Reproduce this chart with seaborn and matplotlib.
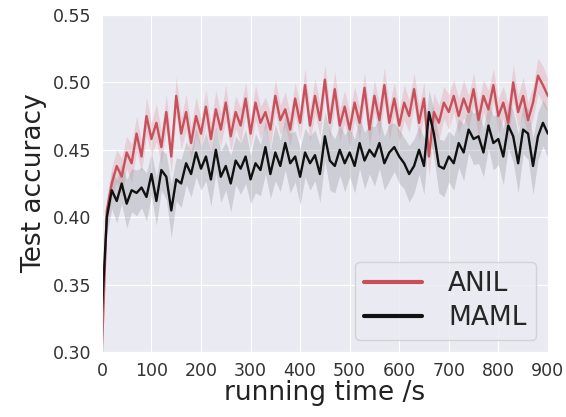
import seaborn as sns
import matplotlib.pyplot as plt
import numpy as np
import pandas as pd

# 数据（从图中读取，步长 10 s）
time_s = list(range(0, 901, 10))

anil_acc = [
    0.300, 0.405, 0.425, 0.438, 0.430, 0.448, 0.440, 0.462, 0.445, 0.475,
    0.458, 0.470, 0.452, 0.478, 0.445, 0.490, 0.462, 0.478, 0.455, 0.475,
    0.462, 0.482, 0.458, 0.480, 0.465, 0.485, 0.460, 0.478, 0.468, 0.488,
    0.462, 0.485, 0.470, 0.478, 0.465, 0.490, 0.472, 0.480, 0.465, 0.488,
    0.470, 0.498, 0.468, 0.490, 0.472, 0.502, 0.470, 0.495, 0.468, 0.482,
    0.465, 0.485, 0.470, 0.496, 0.465, 0.490, 0.472, 0.498, 0.470, 0.488,
    0.468, 0.485, 0.475, 0.495, 0.470, 0.488, 0.445, 0.478, 0.470, 0.485,
    0.478, 0.490, 0.475, 0.488, 0.478, 0.495, 0.472, 0.490, 0.480, 0.498,
    0.475, 0.485, 0.470, 0.500, 0.478, 0.490, 0.472, 0.485, 0.505, 0.498,
    0.490,
]
anil_sd = [
    0.004, 0.010, 0.012, 0.012, 0.014, 0.012, 0.014, 0.013, 0.012, 0.014,
    0.012, 0.014, 0.012, 0.013, 0.012, 0.014, 0.012, 0.013, 0.012, 0.014,
    0.011, 0.013, 0.012, 0.014, 0.012, 0.013, 0.011, 0.012, 0.013, 0.012,
    0.012, 0.013, 0.012, 0.011, 0.013, 0.012, 0.011, 0.013, 0.012, 0.012,
    0.013, 0.012, 0.012, 0.013, 0.012, 0.011, 0.012, 0.013, 0.012, 0.012,
    0.013, 0.012, 0.012, 0.011, 0.013, 0.012, 0.012, 0.013, 0.012, 0.012,
    0.012, 0.013, 0.012, 0.012, 0.013, 0.012, 0.015, 0.014, 0.013, 0.012,
    0.013, 0.012, 0.013, 0.014, 0.012, 0.012, 0.013, 0.012, 0.014, 0.012,
    0.013, 0.012, 0.014, 0.013, 0.012, 0.014, 0.013, 0.012, 0.013, 0.014,
    0.012,
]

maml_acc = [
    0.330, 0.400, 0.420, 0.412, 0.425, 0.410, 0.420, 0.418, 0.422, 0.415,
    0.432, 0.412, 0.435, 0.430, 0.405, 0.428, 0.425, 0.440, 0.432, 0.448,
    0.436, 0.445, 0.428, 0.450, 0.430, 0.438, 0.425, 0.442, 0.436, 0.445,
    0.428, 0.440, 0.435, 0.452, 0.432, 0.448, 0.438, 0.455, 0.440, 0.445,
    0.430, 0.448, 0.440, 0.446, 0.432, 0.460, 0.442, 0.438, 0.450, 0.440,
    0.448, 0.438, 0.455, 0.442, 0.450, 0.445, 0.455, 0.440, 0.448, 0.452,
    0.445, 0.440, 0.432, 0.438, 0.450, 0.438, 0.478, 0.462, 0.438, 0.436,
    0.445, 0.440, 0.455, 0.448, 0.465, 0.458, 0.460, 0.448, 0.468, 0.455,
    0.458, 0.445, 0.468, 0.460, 0.440, 0.465, 0.462, 0.438, 0.460, 0.470,
    0.462,
]
maml_sd = [
    0.004, 0.012, 0.014, 0.016, 0.015, 0.018, 0.016, 0.017, 0.015, 0.018,
    0.016, 0.018, 0.015, 0.017, 0.020, 0.016, 0.018, 0.016, 0.017, 0.018,
    0.016, 0.018, 0.020, 0.017, 0.019, 0.018, 0.021, 0.018, 0.019, 0.020,
    0.018, 0.022, 0.019, 0.020, 0.018, 0.021, 0.019, 0.020, 0.022, 0.019,
    0.021, 0.018, 0.020, 0.019, 0.021, 0.018, 0.022, 0.020, 0.019, 0.021,
    0.018, 0.020, 0.019, 0.021, 0.018, 0.022, 0.019, 0.020, 0.021, 0.018,
    0.020, 0.019, 0.021, 0.020, 0.018, 0.021, 0.016, 0.018, 0.020, 0.021,
    0.019, 0.020, 0.018, 0.021, 0.017, 0.019, 0.020, 0.018, 0.017, 0.020,
    0.019, 0.021, 0.017, 0.019, 0.022, 0.018, 0.019, 0.021, 0.018, 0.017,
    0.018,
]

methods = ['ANIL', 'MAML']
colors = {'ANIL': '#c8505a', 'MAML': '#111111'}

df = pd.concat([
    pd.DataFrame({'time': time_s, 'acc': anil_acc, 'sd': anil_sd, 'method': 'ANIL'}),
    pd.DataFrame({'time': time_s, 'acc': maml_acc, 'sd': maml_sd, 'method': 'MAML'}),
])

sns.set_style("darkgrid")

fig = plt.figure(figsize=(5.66, 4.17), dpi=100)
ax = fig.add_axes([0.180, 0.156, 0.788, 0.808])

# 阴影带（均值 ± 标准差）
band_colors = {'ANIL': ('#e08088', 0.25), 'MAML': ('#8c8c94', 0.30)}
for m in methods:
    d = df[df['method'] == m]
    c, a = band_colors[m]
    ax.fill_between(d['time'], d['acc'] - d['sd'], d['acc'] + d['sd'],
                    color=c, alpha=a, linewidth=0)

sns.lineplot(data=df, x='time', y='acc', hue='method', hue_order=methods,
             palette=colors, linewidth=1.7, ax=ax, errorbar=None)

ax.set_xlim(0, 900)
ax.set_ylim(0.30, 0.55)
ax.set_xticks(range(0, 901, 100))
ax.set_yticks([0.30, 0.35, 0.40, 0.45, 0.50, 0.55])
ax.set_yticklabels(['0.30', '0.35', '0.40', '0.45', '0.50', '0.55'])
ax.tick_params(labelsize=12.5, colors='#333333', pad=4)
ax.set_xlabel('running time /s', fontsize=19, color='#222222', labelpad=0)
ax.set_ylabel('Test accuracy', fontsize=19, color='#222222', labelpad=4)

leg = ax.legend(loc='lower right', fontsize=19, handlelength=2.2,
                borderpad=0.35, labelspacing=0.3, handletextpad=1.0,
                frameon=True, borderaxespad=0.45)
for line in leg.get_lines():
    line.set_linewidth(3)

plt.savefig('out.png', dpi=100)
plt.close()
